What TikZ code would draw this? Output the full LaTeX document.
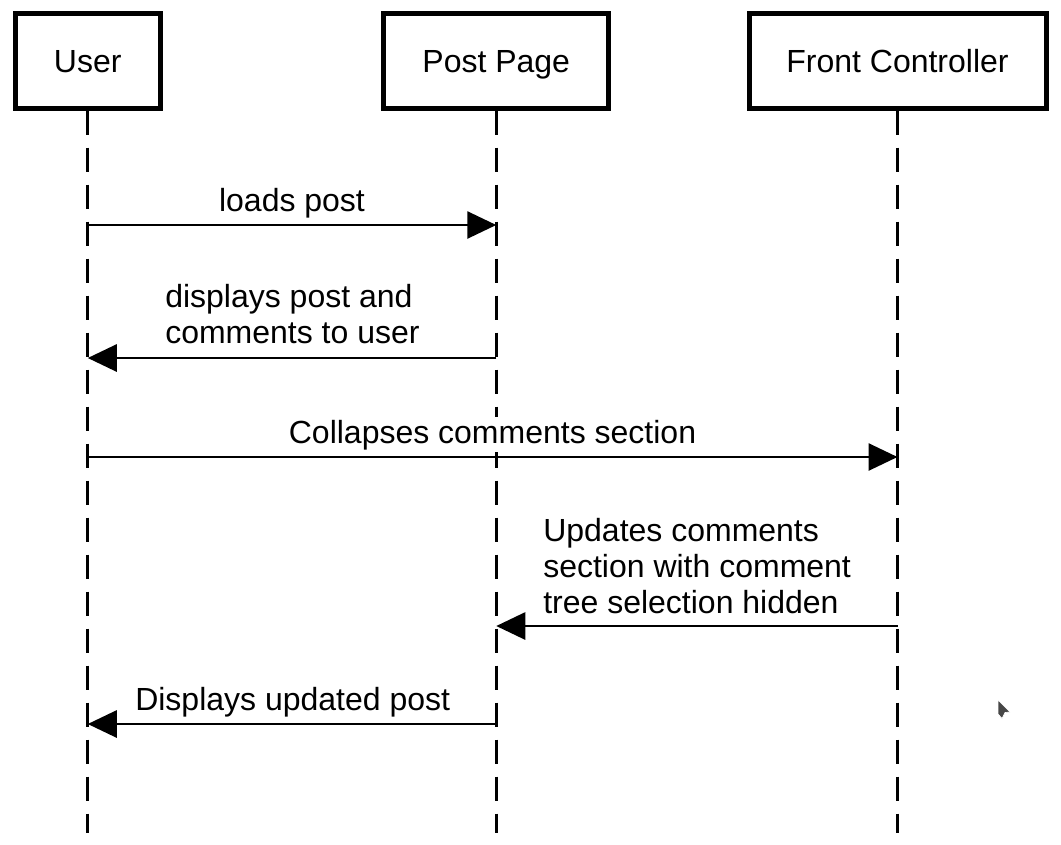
\documentclass[tikz,border=0pt]{standalone}
\usepackage{fontspec}
\setmainfont{Liberation Sans}
\usetikzlibrary{arrows.meta}

\begin{document}
\begin{tikzpicture}[x=0.75pt,y=-0.75pt]
\tikzstyle{every node}=[inner sep=0pt,font=\fontsize{24}{27}\selectfont]
\tikzstyle{actor}=[rectangle,draw,line width=3.75pt,minimum height=70.9pt,text height=17.2pt,text depth=0pt]
\tikzstyle{lifeline}=[line width=2.1pt,dash pattern=on 18pt off 9.75pt]
\tikzstyle{msg}=[-{Triangle[length=21.75pt,width=20.25pt]},line width=2.1pt]
\tikzstyle{lbl}=[align=left,fill=white,inner xsep=0pt,inner ysep=2pt]

\useasboundingbox (0,0) rectangle (1061,844);

\begin{scope}
\node (user) [actor,minimum width=108.4pt] at (87.75,60.75) {User};
\node (page) [actor,minimum width=168.4pt] at (496.25,60.75) {Post Page};
\node (front) [actor,minimum width=222.75pt] at (897.5,60.75) {Front Controller};

\coordinate (userend) at (user.south |- 0,833);
\coordinate (pageend) at (page.south |- 0,833);
\coordinate (frontend) at (front.south |- 0,833);
\draw[lifeline] (user.south)--(userend);
\draw[lifeline] (page.south)--(pageend);
\draw[lifeline] (front.south)--(frontend);

\coordinate (u1) at (user.south |- 0,225);
\coordinate (p1) at (page.south |- 0,225);
\coordinate (u2) at (user.south |- 0,358);
\coordinate (p2) at (page.south |- 0,358);
\coordinate (u3) at (user.south |- 0,457);
\coordinate (f3) at (front.south |- 0,457);
\coordinate (p4) at (page.south |- 0,626);
\coordinate (f4) at (front.south |- 0,626);
\coordinate (u5) at (user.south |- 0,724);
\coordinate (p5) at (page.south |- 0,724);

\draw[msg] (u1)--(p1);
\draw[msg] (p2)--(u2);
\draw[msg] (u3)--(f3);
\draw[msg] (f4)--(p4);
\draw[msg] (p5)--(u5);

\node (loads) [lbl,anchor=base] at (292,211) {loads post};
\node (shows) [lbl,anchor=base west] at (165,343) {displays post and\\comments to user};
\node (collapse) [lbl,anchor=base] at (492.5,443) {Collapses comments section};
\node (updates) [lbl,anchor=base west] at (543,613) {Updates comments\\section with comment\\tree selection hidden};
\node (updated) [lbl,anchor=base west] at (135,710) {Displays updated post};
\end{scope}

% pointer
\fill[black!72,draw=white,line width=0.5pt] (998,700)--(1010,712)--(1005,712.5)--(1002,718.5)--(998,714)--cycle;

\end{tikzpicture}
\end{document}
